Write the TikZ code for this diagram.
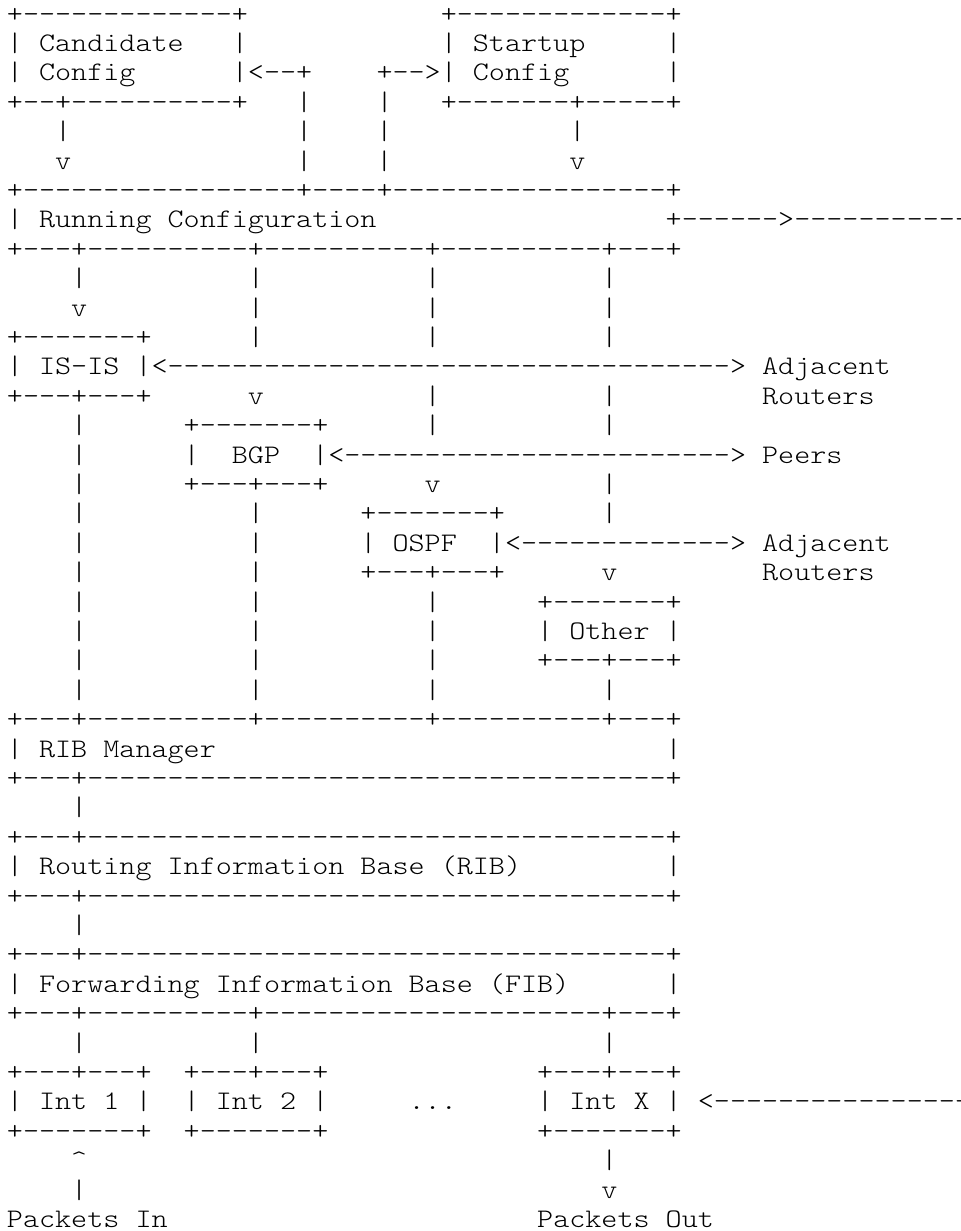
\documentclass[tikz,border=0pt]{standalone}
\usepackage{fontspec}
\newfontfamily\asc{lmmonolt10-regular}[Extension=.otf,FakeStretch=1.142]
\ExplSyntaxOn
\cs_new:Npn \RepX #1#2 { \prg_replicate:nn {#1} {#2} }
\ExplSyntaxOff
\newcommand\Sp[1]{\RepX{#1}{\ }}
\newcommand\Ds[1]{\RepX{#1}{-}}
\tikzset{ln/.style={anchor=base west, inner sep=0pt, outer sep=0pt,
  font=\asc\fontsize{13.4pt}{14.7pt}\selectfont, text=black}}
\newcommand\Ln[2]{\node[ln] (l#1) at (3.48pt,{-11pt-(#1-1)*14.7pt}) {#2};}
\begin{document}
\begin{tikzpicture}
\useasboundingbox (0,0) rectangle (480pt,-615.5pt);
\fill[white] (0,0) rectangle (480pt,-615.5pt);
\clip (0,0) rectangle (480pt,-615.5pt);
\Ln{1}{+\Ds{13}+\Sp{12}+\Ds{13}+}
\Ln{2}{|\ Candidate\Sp{3}|\Sp{12}|\ Startup\Sp{5}|}
\Ln{3}{|\ Config\Sp{6}|<\Ds{2}+\Sp{4}+\Ds{2}>|\ Config\Sp{6}|}
\Ln{4}{+\Ds{2}+\Ds{10}+\Sp{3}|\Sp{4}|\Sp{3}+\Ds{7}+\Ds{5}+}
\Ln{5}{\Sp{3}|\Sp{14}|\Sp{4}|\Sp{11}|}
\Ln{6}{\Sp{3}v\Sp{14}|\Sp{4}|\Sp{11}v}
\Ln{7}{+\Ds{17}+\Ds{4}+\Ds{17}+}
\Ln{8}{|\ Running\ Configuration\Sp{18}+\Ds{6}>\Ds{14}}
\Ln{9}{+\Ds{3}+\Ds{10}+\Ds{10}+\Ds{10}+\Ds{3}+}
\Ln{10}{\Sp{4}|\Sp{10}|\Sp{10}|\Sp{10}|}
\Ln{11}{\Sp{4}v\Sp{10}|\Sp{10}|\Sp{10}|}
\Ln{12}{+\Ds{7}+\Sp{6}|\Sp{10}|\Sp{10}|}
\Ln{13}{|\ IS-IS\ |<\Ds{35}>\ Adjacent}
\Ln{14}{+\Ds{3}+\Ds{3}+\Sp{6}v\Sp{10}|\Sp{10}|\Sp{9}Routers}
\Ln{15}{\Sp{4}|\Sp{6}+\Ds{7}+\Sp{6}|\Sp{10}|}
\Ln{16}{\Sp{4}|\Sp{6}|\Sp{2}BGP\Sp{2}|<\Ds{24}>\ Peers}
\Ln{17}{\Sp{4}|\Sp{6}+\Ds{3}+\Ds{3}+\Sp{6}v\Sp{10}|}
\Ln{18}{\Sp{4}|\Sp{10}|\Sp{6}+\Ds{7}+\Sp{6}|}
\Ln{19}{\Sp{4}|\Sp{10}|\Sp{6}|\ OSPF\Sp{2}|<\Ds{13}>\ Adjacent}
\Ln{20}{\Sp{4}|\Sp{10}|\Sp{6}+\Ds{3}+\Ds{3}+\Sp{6}v\Sp{9}Routers}
\Ln{21}{\Sp{4}|\Sp{10}|\Sp{10}|\Sp{6}+\Ds{7}+}
\Ln{22}{\Sp{4}|\Sp{10}|\Sp{10}|\Sp{6}|\ Other\ |}
\Ln{23}{\Sp{4}|\Sp{10}|\Sp{10}|\Sp{6}+\Ds{3}+\Ds{3}+}
\Ln{24}{\Sp{4}|\Sp{10}|\Sp{10}|\Sp{10}|}
\Ln{25}{+\Ds{3}+\Ds{10}+\Ds{10}+\Ds{10}+\Ds{3}+}
\Ln{26}{|\ RIB\ Manager\Sp{28}|}
\Ln{27}{+\Ds{3}+\Ds{36}+}
\Ln{28}{\Sp{4}|}
\Ln{29}{+\Ds{3}+\Ds{36}+}
\Ln{30}{|\ Routing\ Information\ Base\ (RIB)\Sp{9}|}
\Ln{31}{+\Ds{3}+\Ds{36}+}
\Ln{32}{\Sp{4}|}
\Ln{33}{+\Ds{3}+\Ds{36}+}
\Ln{34}{|\ Forwarding\ Information\ Base\ (FIB)\Sp{6}|}
\Ln{35}{+\Ds{3}+\Ds{10}+\Ds{21}+\Ds{3}+}
\Ln{36}{\Sp{4}|\Sp{10}|\Sp{21}|}
\Ln{37}{+\Ds{3}+\Ds{3}+\Sp{2}+\Ds{3}+\Ds{3}+\Sp{13}+\Ds{3}+\Ds{3}+}
\Ln{38}{|\ Int\ 1\ |\Sp{2}|\ Int\ 2\ |\Sp{5}...\Sp{5}|\ Int\ X\ |\ <\Ds{18}}
\Ln{39}{+\Ds{7}+\Sp{2}+\Ds{7}+\Sp{13}+\Ds{7}+}
\Ln{40}{\Sp{4}\textasciicircum\Sp{32}|}
\Ln{41}{\Sp{4}|\Sp{32}v}
\Ln{42}{Packets\ In\Sp{23}Packets\ Out}
\end{tikzpicture}
\end{document}
